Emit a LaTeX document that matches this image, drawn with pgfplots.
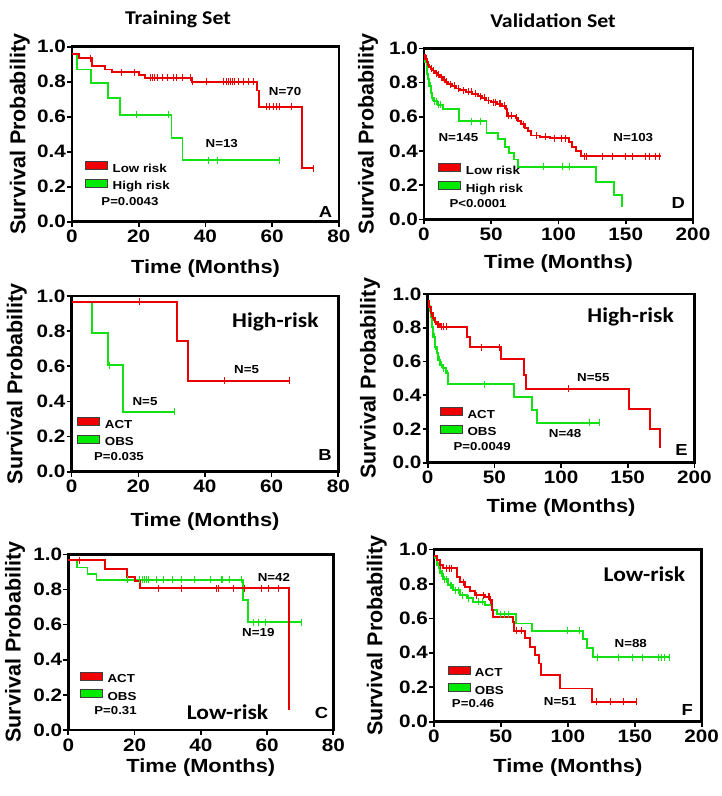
\documentclass[border=0pt]{standalone}
\usepackage{fontspec}
\setmainfont{Liberation Sans}[FakeStretch=1.15]
\newfontfamily\ylabfont{Liberation Sans}
\newfontfamily\calfont{Carlito}[FakeStretch=1.12]
\usepackage{pgfplots}
\pgfplotsset{compat=1.18}
\definecolor{kmred}{RGB}{235,0,0}
\definecolor{kmgreen}{RGB}{20,225,20}
\definecolor{swred}{RGB}{240,0,0}
\definecolor{swgreen}{RGB}{0,235,0}
\newcommand{\fs}[1]{\fontsize{#1}{#1}\selectfont}
\tikzset{
  nlab/.style={font=\bfseries\fs{11.6}},
  plab/.style={font=\bfseries\fs{11.5}, anchor=west},
  letlab/.style={font=\bfseries\fs{16}},
  risklab/.style={font=\calfont\bfseries\fs{21}},
}
\pgfplotsset{
  km/.style={
    scale only axis, xmin=0, ymin=0, ymax=1, clip=false,
    axis line style={line width=2.6pt, black},
    tick align=outside, xtick pos=left, ytick pos=left,
    major tick length=5pt,
    every tick/.style={black, line width=1.6pt},
    ytick={0,0.2,0.4,0.6,0.8,1.0},
    /pgf/number format/assume math mode=true,
    yticklabel style={/pgf/number format/fixed, /pgf/number format/fixed zerofill, /pgf/number format/precision=1, inner xsep=1pt},
    tick label style={font=\bfseries\fs{18}},
    ylabel={Survival Probability},
    ylabel style={font=\ylabfont\bfseries\fs{21.5}, anchor=center},
    xlabel={Time (Months)},
    xlabel style={font=\bfseries\fs{19}, anchor=center},
    legend style={draw=none, fill=none, font=\bfseries\fs{11.6}, anchor=north west, row sep=4pt, inner sep=0pt, nodes={inner sep=1pt}, /tikz/every odd column/.append style={column sep=4pt}},
    legend cell align=left,
    legend image code/.code={\draw[#1] (0pt,-0.5pt) rectangle (22pt,7.5pt);},
  },
  kmr/.style={const plot, draw=kmred, line width=1.9pt, mark=none, forget plot},
  kmg/.style={const plot, draw=kmgreen, line width=1.9pt, mark=none, forget plot},
  cr/.style={only marks, mark=|, mark size=3.5pt, kmred, mark options={line width=1pt}, forget plot},
  cg/.style={only marks, mark=|, mark size=3.5pt, kmgreen, mark options={line width=1pt}, forget plot},
}
\begin{document}
\begin{tikzpicture}
\useasboundingbox (0,0) rectangle (722pt,-796pt);
\node[font=\calfont\bfseries\fs{19.5}] at (178pt,-19pt) {Training Set};
\node[font=\calfont\bfseries\fs{19.5}] at (553pt,-21pt) {Validation Set};

% ---------- A ----------
\begin{axis}[km, at={(72pt,-221.7pt)}, anchor=south west, width=267pt, height=175pt,
  xmax=80, xtick={0,20,40,60,80},
  ylabel style={at={(axis description cs:-0.195,0.5)}},
  xlabel style={at={(axis description cs:0.5,-0.269)}},
  legend style={at={(axis description cs:0.049,0.347)}}]
\addplot[kmg] coordinates {(0,0.96) (1.5,0.87) (5.8,0.794) (10.8,0.705) (14.3,0.61) (29.8,0.48) (33.1,0.352) (62.3,0.352)};
\addplot[cg] coordinates {(19.3,0.61) (28.8,0.61) (40.8,0.352) (43.5,0.352) (62.3,0.352)};
\addplot[kmr] coordinates {(0,0.96) (2.2,0.935) (6,0.89) (10,0.87) (12,0.853) (20,0.84) (22,0.823) (36,0.80) (55.3,0.75) (56,0.657) (69,0.305) (72.3,0.305)};
\addplot[cr] coordinates {(5.5,0.935) (14.8,0.853) (18.8,0.853) (23.5,0.823) (24.2,0.823) (24.8,0.823) (25.5,0.823) (27,0.823) (28.5,0.823) (30.3,0.823) (31.3,0.823) (33,0.823) (35.5,0.823) (36.2,0.80) (40.3,0.80) (45.3,0.80) (46.2,0.80) (47,0.80) (47.6,0.80) (48.2,0.80) (48.8,0.80) (50,0.80) (51.3,0.80) (52.8,0.80) (54.3,0.80) (58.3,0.657) (59.3,0.657) (60.3,0.657) (61.3,0.657) (62.3,0.657) (65.8,0.657) (72.3,0.305)};
\addlegendimage{fill=swred, draw=black!75}
\addlegendentry{Low risk}
\addlegendimage{fill=swgreen, draw=black!75}
\addlegendentry{High risk}
\node[nlab] at (axis description cs:0.798,0.743) {N=70};
\node[nlab] at (axis description cs:0.561,0.448) {N=13};
\node[plab] at (axis description cs:0.097,0.113) {P=0.0043};
\node[letlab] at (axis description cs:0.950,0.054) {A};
\end{axis}

% ---------- B ----------
\begin{axis}[km, at={(71.7pt,-471.7pt)}, anchor=south west, width=266.6pt, height=175.7pt,
  xmax=80, xtick={0,20,40,60,80},
  ylabel style={at={(axis description cs:-0.206,0.5)}},
  xlabel style={at={(axis description cs:0.5,-0.285)}},
  legend style={at={(axis description cs:0.021,0.311)}}]
\addplot[kmg] coordinates {(0,0.968) (6,0.79) (10.8,0.607) (15.3,0.342) (30.8,0.342)};
\addplot[cg] coordinates {(11.3,0.607) (30.8,0.342)};
\addplot[kmr] coordinates {(0,0.968) (31.5,0.746) (34.8,0.518) (65.3,0.518)};
\addplot[cr] coordinates {(20.3,0.968) (45.8,0.518) (65.3,0.518)};
\addlegendimage{fill=swred, draw=black!75}
\addlegendentry{ACT}
\addlegendimage{fill=swgreen, draw=black!75}
\addlegendentry{OBS}
\node[risklab] at (axis description cs:0.764,0.854) {High-risk};
\node[nlab] at (axis description cs:0.656,0.579) {N=5};
\node[nlab] at (axis description cs:0.275,0.398) {N=5};
\node[plab] at (axis description cs:0.071,0.085) {P=0.035};
\node[letlab] at (axis description cs:0.950,0.095) {B};
\end{axis}

% ---------- C ----------
\begin{axis}[km, at={(68.3pt,-730pt)}, anchor=south west, width=265pt, height=175.7pt,
  xmax=80, xtick={0,20,40,60,80},
  ylabel style={at={(axis description cs:-0.201,0.5)}},
  xlabel style={at={(axis description cs:0.5,-0.216)}},
  legend style={at={(axis description cs:0.044,0.334)}}]
\addplot[kmg] coordinates {(0,0.967) (2.7,0.925) (5.8,0.888) (8.5,0.854) (52.8,0.74) (54.3,0.613) (70.4,0.613)};
\addplot[cg] coordinates {(17.8,0.854) (21.6,0.854) (22.3,0.854) (23,0.854) (23.6,0.854) (24.2,0.854) (26.6,0.854) (28.6,0.854) (31.6,0.854) (34.2,0.854) (38.2,0.854) (42.8,0.854) (46.3,0.854) (46.6,0.854) (48.8,0.854) (52.2,0.854) (55.9,0.613) (57.4,0.613) (59.4,0.613) (70.4,0.613)};
\addplot[kmr] coordinates {(0,0.967) (11,0.916) (17.6,0.869) (20.1,0.848) (21.6,0.806) (66.7,0.115)};
\addplot[cr] coordinates {(3.5,0.967) (27.2,0.806) (34.2,0.806) (44.8,0.806) (45.3,0.806) (49.8,0.806) (53.3,0.806) (58.4,0.806) (60.4,0.806) (63.4,0.806)};
\addlegendimage{fill=swred, draw=black!75}
\addlegendentry{ACT}
\addlegendimage{fill=swgreen, draw=black!75}
\addlegendentry{OBS}
\node[nlab] at (axis description cs:0.776,0.868) {N=42};
\node[nlab] at (axis description cs:0.717,0.554) {N=19};
\node[risklab] at (axis description cs:0.601,0.104) {Low-risk};
\node[plab] at (axis description cs:0.085,0.11) {P=0.31};
\node[letlab] at (axis description cs:0.956,0.095) {C};
\end{axis}

% ---------- D ----------
\begin{axis}[km, at={(424pt,-219.3pt)}, anchor=south west, width=269pt, height=171pt,
  xmax=200, xtick={0,50,100,150,200},
  ylabel style={at={(axis description cs:-0.208,0.5)}},
  xlabel style={at={(axis description cs:0.5,-0.257)}},
  legend style={at={(axis description cs:0.053,0.329)}}]
\addplot[kmg] coordinates {(0,0.96) (1,0.92) (2,0.88) (2.5,0.85) (3,0.82) (4,0.78) (5,0.74) (6,0.71) (7.5,0.69) (10,0.67) (14,0.645) (26,0.574) (46.5,0.503) (54.7,0.47) (60.4,0.425) (63.4,0.386) (67,0.35) (70,0.306) (128,0.22) (141,0.142) (147.3,0.074)};
\addplot[cg] coordinates {(3.5,0.82) (4.5,0.78) (5.5,0.74) (6.5,0.71) (8,0.69) (9,0.69) (11,0.67) (12,0.67) (35.5,0.574) (42,0.574) (89,0.306) (103,0.306) (108,0.306)};
\addplot[kmr] coordinates {(0,0.96) (1,0.94) (2,0.92) (3,0.905) (4,0.89) (5,0.88) (6,0.87) (8,0.855) (10,0.845) (12,0.83) (14,0.815) (16,0.805) (18,0.79) (21,0.78) (24,0.765) (27,0.755) (31,0.745) (36,0.735) (40,0.72) (43,0.71) (46,0.695) (50,0.685) (54,0.675) (58,0.665) (61,0.645) (62,0.605) (68,0.595) (70,0.575) (72,0.555) (75,0.535) (77,0.515) (79.5,0.49) (86,0.483) (94,0.475) (108,0.45) (110,0.425) (113,0.40) (117,0.37) (176,0.37)};
\addplot[cr] coordinates {(1.5,0.94) (3.5,0.905) (5.5,0.88) (7,0.87) (9,0.855) (11,0.845) (13,0.83) (15,0.815) (17,0.805) (20,0.79) (23,0.78) (26,0.765) (29,0.755) (33,0.745) (35,0.745) (38,0.735) (42,0.72) (45,0.71) (48,0.695) (52,0.685) (53,0.685) (56,0.675) (57,0.675) (60,0.665) (63,0.605) (65,0.605) (69,0.595) (74,0.555) (84,0.49) (90,0.483) (97,0.475) (102,0.475) (105,0.475) (119,0.37) (121,0.37) (133,0.37) (140,0.37) (150,0.37) (155,0.37) (165,0.37) (168,0.37) (172,0.37) (175,0.37)};
\addlegendimage{fill=swred, draw=black!75}
\addlegendentry{Low risk}
\addlegendimage{fill=swgreen, draw=black!75}
\addlegendentry{High risk}
\node[nlab] at (axis description cs:0.128,0.48) {N=145};
\node[nlab] at (axis description cs:0.778,0.48) {N=103};
\node[plab] at (axis description cs:0.082,0.094) {P<0.0001};
\node[letlab] at (axis description cs:0.945,0.094) {D};
\end{axis}

% ---------- E ----------
\begin{axis}[km, at={(427.7pt,-462.7pt)}, anchor=south west, width=266.7pt, height=168.7pt,
  xmax=200, xtick={0,50,100,150,200},
  ylabel style={at={(axis description cs:-0.216,0.5)}},
  xlabel style={at={(axis description cs:0.5,-0.267)}},
  legend style={at={(axis description cs:0.046,0.329)}}]
\addplot[kmg] coordinates {(0,0.96) (1,0.93) (1.7,0.90) (2.5,0.866) (3.2,0.806) (4.2,0.747) (5.5,0.688) (6.7,0.648) (8,0.609) (9.2,0.58) (11.2,0.559) (13.7,0.53) (15.5,0.464) (64.7,0.391) (78,0.312) (82,0.237) (129.2,0.237)};
\addplot[cg] coordinates {(3.8,0.806) (5,0.747) (6,0.688) (7,0.648) (8.5,0.609) (10,0.58) (12,0.559) (14.5,0.53) (42.5,0.464) (121.7,0.237) (129.2,0.237)};
\addplot[kmr] coordinates {(0,0.96) (1.2,0.925) (2.2,0.885) (3.7,0.86) (5.5,0.836) (7,0.82) (9,0.806) (29.7,0.747) (31.7,0.684) (55,0.615) (72,0.52) (74,0.437) (151,0.318) (167,0.2) (174,0.085)};
\addplot[cr] coordinates {(3,0.885) (4.5,0.86) (6,0.836) (7.5,0.82) (8.3,0.82) (10,0.806) (11.5,0.806) (14,0.806) (40.5,0.684) (54,0.684) (105.5,0.437)};
\addlegendimage{fill=swred, draw=black!75}
\addlegendentry{ACT}
\addlegendimage{fill=swgreen, draw=black!75}
\addlegendentry{OBS}
\node[risklab] at (axis description cs:0.761,0.866) {High-risk};
\node[nlab] at (axis description cs:0.621,0.506) {N=55};
\node[nlab] at (axis description cs:0.515,0.174) {N=48};
\node[plab] at (axis description cs:0.084,0.095) {P=0.0049};
\node[letlab] at (axis description cs:0.952,0.075) {E};
\end{axis}

% ---------- F ----------
\begin{axis}[km, at={(434pt,-721.7pt)}, anchor=south west, width=267.7pt, height=172.3pt,
  xmax=200, xtick={0,50,100,150,200},
  ylabel style={at={(axis description cs:-0.214,0.5)}},
  xlabel style={at={(axis description cs:0.5,-0.267)}},
  legend style={at={(axis description cs:0.05,0.325)}}]
\addplot[kmg] coordinates {(0,0.95) (2,0.909) (4.5,0.86) (7,0.826) (10.7,0.793) (14.4,0.764) (19.4,0.735) (24.4,0.716) (29.4,0.696) (38.1,0.677) (43.1,0.648) (46.8,0.625) (61,0.57) (73,0.528) (111,0.478) (114,0.426) (119,0.373) (176.3,0.373)};
\addplot[cg] coordinates {(3,0.909) (5.5,0.86) (6.5,0.86) (8,0.826) (9.5,0.826) (12,0.793) (13,0.793) (16,0.764) (18,0.764) (21,0.735) (26,0.716) (33,0.696) (36,0.696) (50,0.625) (53,0.625) (56,0.625) (100,0.528) (109,0.528) (122,0.373) (138,0.373) (148,0.373) (156,0.373) (168,0.373) (170,0.373) (172,0.373) (176.3,0.373)};
\addplot[kmr] coordinates {(0,0.96) (2,0.938) (4.5,0.909) (7,0.89) (17,0.84) (19.4,0.81) (23.2,0.78) (26.9,0.76) (30.6,0.735) (38,0.725) (42,0.706) (43,0.648) (44.3,0.609) (59.3,0.58) (60,0.528) (68,0.484) (71.7,0.435) (75.5,0.387) (78.5,0.338) (79.7,0.27) (94,0.193) (117.8,0.116) (151.4,0.116)};
\addplot[cr] coordinates {(4.5,0.909) (9.5,0.89) (11.5,0.89) (13,0.89) (21.8,0.81) (31.8,0.735) (36.8,0.735) (40.5,0.725) (41.5,0.725) (42.5,0.706) (61.8,0.528) (65.5,0.528) (121.5,0.116) (131.5,0.116) (141.5,0.116) (151.4,0.116)};
\addlegendimage{fill=swred, draw=black!75}
\addlegendentry{ACT}
\addlegendimage{fill=swgreen, draw=black!75}
\addlegendentry{OBS}
\node[risklab] at (axis description cs:0.786,0.857) {Low-risk};
\node[nlab] at (axis description cs:0.735,0.451) {N=88};
\node[nlab] at (axis description cs:0.471,0.116) {N=51};
\node[plab] at (axis description cs:0.054,0.107) {P=0.46};
\node[letlab] at (axis description cs:0.946,0.068) {F};
\end{axis}
\end{tikzpicture}
\end{document}
